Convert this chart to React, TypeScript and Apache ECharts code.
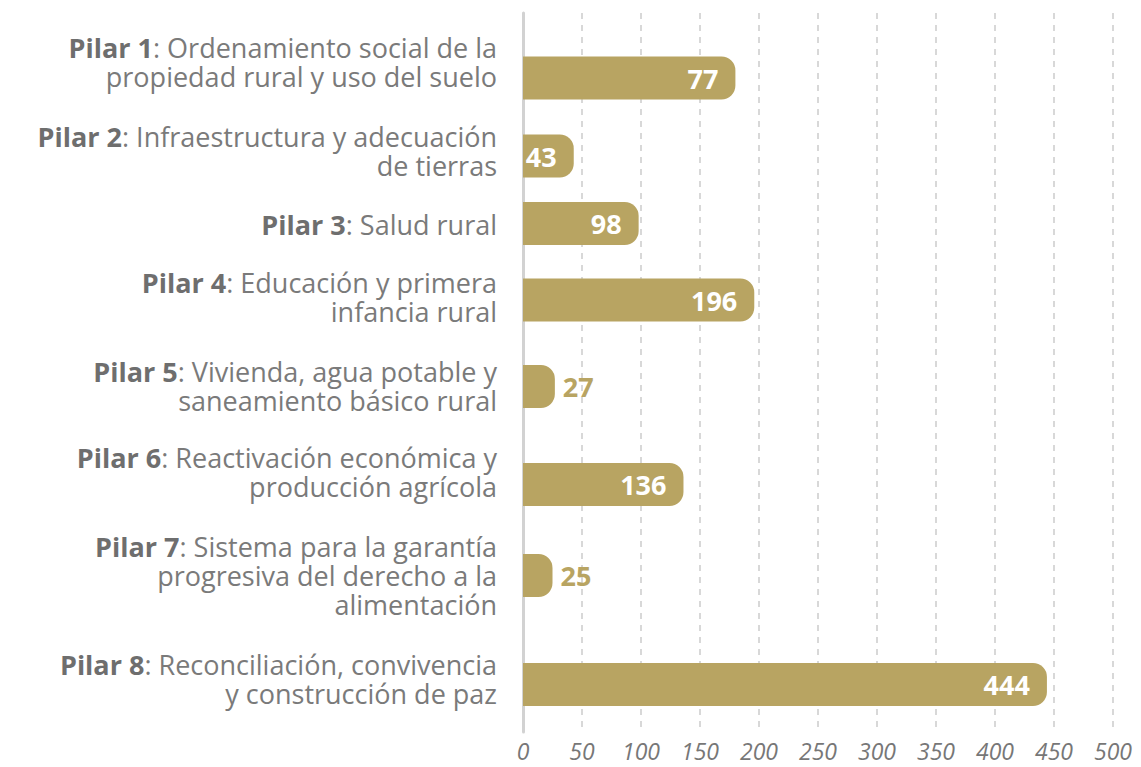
import React, { useEffect, useRef } from "react";
import * as echarts from "echarts";

// ---- data ----
const pillarNames = ["Pilar 1", "Pilar 2", "Pilar 3", "Pilar 4", "Pilar 5", "Pilar 6", "Pilar 7", "Pilar 8"];
const pillarDescriptions: string[][] = [
  [": Ordenamiento social de la", "propiedad rural y uso del suelo"],
  [": Infraestructura y adecuación", "de tierras"],
  [": Salud rural"],
  [": Educación y primera", "infancia rural"],
  [": Vivienda, agua potable y", "saneamiento básico rural"],
  [": Reactivación económica y", "producción agrícola"],
  [": Sistema para la garantía", "progresiva del derecho a la", "alimentación"],
  [": Reconciliación, convivencia", "y construcción de paz"],
];
// values printed on the bars
const displayedValues = [77, 43, 98, 196, 27, 136, 25, 444];
// bar lengths as drawn in the reference (Pilar 1's bar is drawn at ~180)
const barLengths = [180, 43, 98, 196, 27, 136, 25, 444];

// ---- layout (not data) ----
const GRID_TOP = 13;
const GRID_BOTTOM = 35;
const GRID_LEFT = 523;
const GRID_RIGHT = 28;
const PLOT_H = 767 - GRID_TOP - GRID_BOTTOM;
const rowCenters = [65, 143, 210.5, 287, 373.5, 471.5, 562.5, 671.5];
const labelCenters = [49, 138, 211.5, 284, 373, 459, 562.5, 666];
const BAR_H = 43;
const LABEL_RIGHT = 497;
const GOLD = "#b8a462";
const FONT = '"Open Sans", Lato, sans-serif';

export default function App() {
  const ref = useRef<HTMLDivElement>(null);
  useEffect(() => {
    if (!ref.current) return;
    const chart = echarts.init(ref.current, undefined, { renderer: "svg" });
    chart.setOption({
      animation: false,
      grid: { left: GRID_LEFT, right: GRID_RIGHT, top: GRID_TOP, bottom: GRID_BOTTOM },
      xAxis: {
        type: "value",
        min: 0,
        max: 500,
        interval: 50,
        axisLine: { show: false },
        axisTick: { show: false },
        axisLabel: { fontStyle: "italic", fontSize: 23, lineHeight: 22, color: "#777", margin: 8, fontFamily: FONT },
        splitLine: { show: true, lineStyle: { type: [6, 6], color: "#cccccc", width: 1.5 } },
      },
      yAxis: {
        type: "value",
        min: 0,
        max: PLOT_H,
        inverse: true,
        axisLine: { show: true, lineStyle: { color: "#d2d2d2", width: 3 } },
        axisTick: { show: false },
        axisLabel: { show: false },
        splitLine: { show: false },
      },
      series: [
        {
          type: "custom",
          clip: false,
          data: barLengths.map((v, i) => [v, rowCenters[i], labelCenters[i]]),
          renderItem: (params: any, api: any) => {
            const i = params.dataIndex;
            const len = api.value(0);
            const yc = api.value(1);
            const yl = api.value(2);
            const p0 = api.coord([0, yc]);
            const p1 = api.coord([len, yc]);
            const lp = api.coord([0, yl]);
            const w = p1[0] - p0[0];
            const inside = w > 45;
            const lines = pillarDescriptions[i];
            const text = lines
              .map((l, k) => (k === 0 ? `{b|${pillarNames[i]}}{r|${l}}` : `{r|${l}}`))
              .join("\n");
            return {
              type: "group",
              children: [
                {
                  type: "rect",
                  shape: { x: p0[0], y: p0[1] - BAR_H / 2, width: w, height: BAR_H, r: [0, 14, 14, 0] },
                  style: { fill: GOLD },
                },
                {
                  type: "text",
                  style: {
                    text: String(displayedValues[i]),
                    x: inside ? p1[0] - 17 : p1[0] + 8,
                    y: p0[1],
                    align: inside ? "right" : "left",
                    verticalAlign: "middle",
                    fill: inside ? "#ffffff" : GOLD,
                    font: `bold 27px ${FONT}`,
                  },
                },
                {
                  type: "text",
                  style: {
                    text,
                    x: LABEL_RIGHT,
                    y: lp[1],
                    align: "right",
                    verticalAlign: "middle",
                    rich: {
                      b: { fontWeight: "bold", fontSize: 27, fontFamily: FONT, fill: "#6e6e6e", lineHeight: 29, align: "right" },
                      r: { fontWeight: "normal", fontSize: 27, fontFamily: FONT, fill: "#7a7a7a", lineHeight: 29, align: "right" },
                    },
                  },
                },
              ],
            };
          },
        },
      ],
    });
    return () => chart.dispose();
  }, []);
  return <div ref={ref} style={{ position: "fixed", left: 0, top: 0, width: 1141, height: 767, background: "#fff" }} />;
}
